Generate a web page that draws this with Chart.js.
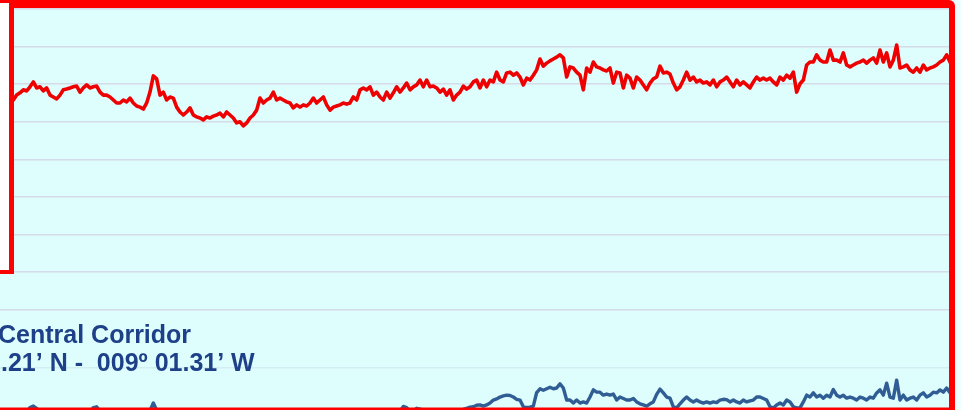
<!DOCTYPE html>
<html>
<head>
<meta charset="utf-8">
<script src="https://cdn.jsdelivr.net/npm/chart.js@4/dist/chart.umd.min.js"></script>
<style>
  html, body { margin: 0; padding: 0; background: #ffffff; }
  #wrap { width: 961px; height: 410px; overflow: hidden; }
  canvas { display: block; }
</style>
</head>
<body>
<div id="wrap"><canvas id="c" width="961" height="410"></canvas></div>
<script>
// Sample index of the first reading in each series
const surfaceStart = 3;
const bottomStart = 0;

// Upper trace (red), one reading per sample
const surfaceLevel = [
  17.53,17.58,17.71,17.77,17.85,17.82,17.93,18.06,17.90,17.93,
  17.82,17.90,17.71,17.66,17.61,17.71,17.85,17.87,17.90,17.93,
  17.95,17.79,17.90,17.98,17.90,17.93,17.95,17.79,17.71,17.71,
  17.66,17.58,17.50,17.50,17.58,17.53,17.63,17.50,17.42,17.39,
  17.34,17.50,17.79,18.22,18.14,17.71,17.79,17.58,17.66,17.63,
  17.39,17.26,17.18,17.26,17.37,17.18,17.13,17.10,17.05,17.13,
  17.10,17.15,17.18,17.23,17.13,17.26,17.18,17.10,16.97,17.00,
  16.89,16.97,17.10,17.18,17.31,17.63,17.50,17.58,17.63,17.79,
  17.58,17.63,17.58,17.53,17.50,17.37,17.45,17.39,17.45,17.42,
  17.50,17.63,17.50,17.58,17.66,17.45,17.31,17.39,17.42,17.45,
  17.50,17.47,17.50,17.66,17.58,17.85,17.90,17.85,17.93,17.71,
  17.79,17.66,17.58,17.79,17.63,17.77,17.93,17.79,17.90,18.03,
  17.85,17.93,17.98,18.11,17.93,18.11,17.93,17.95,17.90,17.79,
  17.87,17.71,17.85,17.58,17.71,17.79,17.95,17.87,17.93,18.06,
  18.11,17.90,18.11,17.93,18.11,18.06,18.32,18.11,18.06,18.30,
  18.32,18.24,18.30,18.19,17.98,18.16,18.11,18.24,18.38,18.67,
  18.48,18.56,18.62,18.67,18.72,18.78,18.70,18.19,18.46,18.43,
  18.32,18.24,17.85,18.43,18.32,18.59,18.46,18.43,18.38,18.35,
  18.43,18.03,18.32,18.30,17.90,18.24,18.16,17.90,18.19,18.11,
  17.98,17.85,18.03,18.14,18.19,18.48,18.30,18.32,18.27,18.03,
  17.85,17.93,18.11,18.32,18.11,18.19,18.06,18.11,18.03,18.06,
  17.98,18.11,17.93,18.06,18.11,18.19,18.06,17.93,18.11,17.98,
  18.06,17.98,17.90,18.06,18.19,18.11,18.16,18.11,18.16,18.06,
  17.98,18.19,18.11,18.24,18.16,18.32,17.79,18.01,18.11,18.51,
  18.59,18.59,18.78,18.64,18.59,18.59,18.91,18.64,18.64,18.59,
  18.83,18.51,18.46,18.51,18.56,18.59,18.64,18.56,18.64,18.70,
  18.56,18.91,18.59,18.83,18.46,18.64,19.04,18.43,18.46,18.51,
  18.38,18.32,18.43,18.32,18.51,18.38,18.43,18.46,18.51,18.59,
  18.64,18.78,18.59,18.43,18.38,18.32
];

// Lower trace (blue), one reading per sample
const bottomLevel = [
  9.23,9.20,9.25,9.22,9.18,9.24,9.26,9.22,9.28,
  9.40,9.44,9.38,
  9.25,9.22,9.28,9.20,9.24,9.27,9.21,9.19,9.25,9.29,9.23,9.20,9.26,9.30,9.24,9.28,
  9.40,9.42,9.30,
  9.24,9.20,9.26,9.22,9.29,9.25,9.21,9.27,9.23,9.30,9.26,9.22,9.28,9.24,9.32,
  9.52,9.33,
  9.30,9.26,9.21,9.25,9.29,9.23,9.19,9.24,9.28,9.22,
  9.26,9.31,9.25,9.20,9.23,9.27,9.22,9.18,9.24,9.29,
  9.25,9.21,9.26,9.30,9.24,9.20,9.25,9.28,9.23,9.19,
  9.24,9.27,9.22,9.26,9.31,9.25,9.21,9.24,9.28,9.22,
  9.19,9.25,9.29,9.24,9.20,9.26,9.30,9.23,9.27,9.22,
  9.25,9.29,9.24,9.21,9.26,9.31,9.27,9.23,9.28,9.25,
  9.21,9.26,9.30,9.24,9.28,9.25,9.29,9.26,9.31,9.27,
  9.29,9.32,
  9.30,9.43,9.40,9.30,
  9.32,9.38,9.36,9.34,
  9.28,9.25,9.30,9.27,9.24,9.29,9.26,9.31,9.27,9.30,9.33,9.35,
  9.38,9.41,9.42,9.46,9.47,9.44,9.47,9.52,9.60,9.63,
  9.68,9.71,9.73,9.72,9.68,9.62,9.60,9.42,9.40,9.41,
  9.44,9.80,9.90,9.86,9.90,9.94,9.90,9.92,10.03,9.92,
  9.60,9.60,9.52,9.60,9.52,9.55,9.52,9.68,9.87,9.81,
  9.81,9.73,9.76,9.73,9.76,9.60,9.68,9.64,9.60,9.60,
  9.64,9.55,9.50,9.47,9.44,9.50,9.55,9.75,9.89,9.79,
  9.68,9.65,9.42,9.39,9.50,9.60,9.68,9.60,9.55,9.60,
  9.55,9.52,9.55,9.52,9.55,9.53,9.60,9.62,9.61,9.55,
  9.60,9.55,9.52,9.60,9.55,9.58,9.60,9.68,9.68,9.64,
  9.60,9.42,9.39,9.47,9.52,9.47,9.60,9.55,9.42,9.39,
  9.39,9.55,9.73,9.68,9.79,9.68,9.73,9.65,9.73,9.68,
  9.88,9.73,9.68,9.73,9.65,9.68,9.65,9.60,9.68,9.65,
  9.60,9.68,9.65,9.79,9.87,9.73,10.05,9.68,9.65,10.13,
  9.60,9.73,9.60,9.65,9.68,9.60,9.73,9.79,9.68,9.73,
  9.81,9.79,9.87,9.81,9.92,9.79,9.80,9.85,9.82
];

// Horizontal reference levels
const gridLevels = [20, 19, 18, 17, 16, 15, 14, 13, 12, 10.45];

// Axis ranges
const sampleRange = [0, 288.3];
const levelRange = [9.335, 20.239];

// Caption lines
const captionLines = ['Central Corridor', '.21\u2019 N -  009\u00BA 01.31\u2019 W'];

const toPoints = (start, values) => values.map((v, k) => ({ x: start + k, y: v }));

const decor = {
  id: 'decor',
  beforeDraw(chart) {
    const { ctx, width, height } = chart;
    ctx.save();
    ctx.fillStyle = '#defdfd';
    ctx.fillRect(0, 0, width, height);
    ctx.restore();
  },
  afterDatasetsDraw(chart) {
    const { ctx, width, height } = chart;
    ctx.save();
    // caption
    ctx.fillStyle = '#1d4088';
    ctx.font = 'bold 25px "Liberation Sans", Arial, sans-serif';
    ctx.textBaseline = 'alphabetic';
    ctx.textAlign = 'left';
    ctx.fillText(captionLines[0], -2, 343);
    ctx.fillText(captionLines[1], 1, 371);

    // panel strip beyond the right frame
    ctx.fillStyle = '#eefdfd';
    ctx.fillRect(955, 0, width - 955, height);

    // white inset at top-left
    ctx.fillStyle = '#ffffff';
    ctx.fillRect(0, 3, 9, 267);

    // red frames
    ctx.fillStyle = '#ff0000';
    ctx.fillRect(0, 0, 12, 3);
    ctx.beginPath();
    ctx.moveTo(9, 0);
    ctx.lineTo(949, 0);
    ctx.arcTo(955, 0, 955, 6, 6);
    ctx.lineTo(955, height);
    ctx.lineTo(949, height);
    ctx.lineTo(949, 8);
    ctx.lineTo(9, 8);
    ctx.closePath();
    ctx.fill();
    ctx.fillRect(9, 0, 5, 274);
    ctx.fillRect(0, 270, 14, 4);
    ctx.fillRect(0, 407.5, 955, height - 407.5);
    ctx.restore();
  }
};

new Chart(document.getElementById('c'), {
  type: 'line',
  data: {
    datasets: [
      {
        label: 'Surface',
        data: toPoints(surfaceStart, surfaceLevel),
        borderColor: '#ee0000',
        borderWidth: 3.6,
        borderJoinStyle: 'round',
        pointRadius: 0,
        tension: 0,
        fill: false
      },
      {
        label: 'Bottom',
        data: toPoints(bottomStart, bottomLevel),
        borderColor: '#305e94',
        borderWidth: 3.4,
        borderJoinStyle: 'round',
        pointRadius: 0,
        tension: 0,
        fill: false
      }
    ]
  },
  options: {
    responsive: false,
    animation: false,
    devicePixelRatio: 1,
    layout: { padding: 0 },
    plugins: { legend: { display: false }, tooltip: { enabled: false }, title: { display: false } },
    scales: {
      x: { type: 'linear', display: false, min: sampleRange[0], max: sampleRange[1] },
      y: {
        type: 'linear',
        min: levelRange[0],
        max: levelRange[1],
        afterBuildTicks(scale) { scale.ticks = gridLevels.map(v => ({ value: v })); },
        ticks: { display: false },
        border: { display: false },
        grid: {
          drawTicks: false,
          lineWidth: 1.5,
          color: (c) => (c.tick && c.tick.value < 11 ? '#d3eef2' : '#d5dbe8')
        }
      }
    }
  },
  plugins: [decor]
});
</script>
</body>
</html>
